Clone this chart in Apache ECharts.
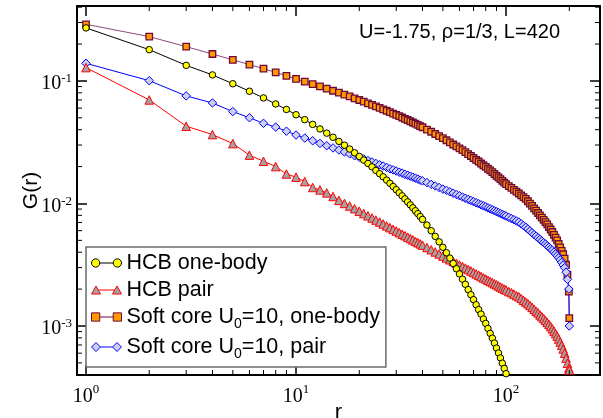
<!DOCTYPE html>
<html><head><meta charset="utf-8">
<script src="https://cdn.jsdelivr.net/npm/echarts@6/dist/echarts.min.js"></script>
<style>html,body{margin:0;padding:0;background:#fff}#c{width:603px;height:418px}</style>
</head><body><div id="c"></div>
<script>
// distances r
const R = [1,2,3,4,5,6,7,8,9,10,11,12,13,14,15,16,17,18,19,20,21,22,23,24,25,26,27,28,29,30,31,32,33,34,35,36,37,38,39,40,
42,44,46,48,50,52,54,56,58,60,62,64,66,68,70,72,74,76,78,80,82,84,86,88,90,92,94,96,98,100,
103,106,109,112,115,118,121,124,127,130,133,136,139,142,145,148,151,154,157,160,163,166,169,172,175,178,181,184,187,190,193,196,199,200];

const hcbOneBody = [0.271,0.180,0.134,0.112,0.0949,0.0824,0.0727,0.0649,0.0585,0.0530,0.0483,0.0442,0.0406,0.0375,0.0347,0.0321,0.0299,0.0278,0.0259,0.0242,
0.0226,0.0212,0.0199,0.0186,0.0175,0.0165,0.0155,0.0146,0.01375,0.01296,0.01223,0.01154,0.0109,0.0103,0.00974,0.00922,0.00872,0.00826,0.00782,0.00741,
0.00666,0.00599,0.00539,0.00486,0.00439,0.00396,0.00358,0.00324,0.00293,0.00266,0.00241,0.00219,0.00198,0.00180,0.00164,0.00149,0.00136,0.00125,0.00114,0.00105,
0.000955,0.00087,0.000795,0.000725,0.00066,0.000602,0.000548,0.000497,0.00045,0.000408];

const hcbPair = [0.1285,0.0700,0.0427,0.0365,0.0308,0.0248,0.0221,0.0200,0.0174,0.0164,0.0151,0.0135,0.0129,0.0122,0.0114,0.0106,0.0100,0.00953,0.00907,0.00865,
0.00827,0.00793,0.00761,0.00732,0.00705,0.0068,0.00656,0.00635,0.00615,0.00596,0.00578,0.00561,0.00546,0.00531,0.00517,0.00504,0.00491,0.00479,0.00468,0.00457,
0.00437,0.00419,0.00402,0.00387,0.00372,0.00359,0.00347,0.00336,0.00325,0.00315,0.00306,0.00297,0.00289,0.00281,0.00273,0.00266,0.0026,0.00253,0.00247,0.00242,
0.00236,0.00231,0.00226,0.00221,0.00217,0.00212,0.00208,0.00204,0.0020,0.00197,
0.00191,0.00187,0.00182,0.00177,0.00173,0.00168,0.00162,0.00157,0.00152,0.00147,0.00142,0.00137,0.00132,0.00128,0.00123,0.00119,0.00115,0.00111,0.00107,0.00103,
0.000989,0.000948,0.000908,0.000867,0.000826,0.000783,0.00074,0.000695,0.000649,0.0006,0.000547,0.000496,0.000452,0.000437];

const softOneBody = [0.290,0.230,0.1905,0.166,0.1486,0.136,0.126,0.1175,0.110,0.1038,0.0987,0.0942,0.0902,0.0866,0.0832,0.0802,0.0773,0.0747,0.0722,0.0699,
0.0678,0.0657,0.0638,0.0620,0.0603,0.0587,0.0571,0.0556,0.0542,0.0529,0.0516,0.0503,0.0491,0.0480,0.0469,0.0458,0.0448,0.0438,0.0428,0.0419,
0.0401,0.0385,0.0369,0.0355,0.0341,0.0328,0.0315,0.0303,0.0292,0.0282,0.0272,0.0262,0.0253,0.0244,0.0235,0.0227,0.0220,0.0212,0.0205,0.0199,
0.0192,0.0186,0.0180,0.0174,0.0168,0.0163,0.0158,0.0153,0.0148,0.01436,
0.01387,0.01338,0.01292,0.01248,0.01206,0.01166,0.01127,0.0109,0.01042,0.00997,0.00954,0.00913,0.00874,0.00836,0.0080,0.00766,0.00734,0.00703,0.00674,0.00642,
0.00613,0.00585,0.00555,0.00526,0.00499,0.00467,0.00438,0.0041,0.00385,0.00355,0.00316,0.00263,0.00191,0.00116];

const softPair = [0.1393,0.1005,0.0755,0.0661,0.0562,0.0501,0.0451,0.0420,0.0389,0.0362,0.0342,0.0325,0.0309,0.0296,0.0284,0.0273,0.0263,0.0254,0.0245,0.0238,
0.0231,0.0224,0.0218,0.0212,0.0207,0.0202,0.0197,0.0192,0.0188,0.0184,0.0180,0.0177,0.0173,0.0170,0.0167,0.0164,0.0161,0.0158,0.0155,0.0153,
0.0148,0.0143,0.0139,0.0135,0.0131,0.0128,0.01245,0.01214,0.01184,0.01156,0.01129,0.01104,0.0108,0.01057,0.01035,0.01014,0.00994,0.00974,0.00956,0.00938,
0.0092,0.00904,0.00888,0.00872,0.00857,0.00843,0.00829,0.00815,0.00802,0.00789,
0.00771,0.00753,0.00736,0.0072,0.00705,0.00682,0.00661,0.00639,0.00619,0.00597,0.00576,0.00557,0.00541,0.00524,0.00509,0.00494,0.00479,0.00466,0.00452,0.00439,
0.00427,0.00415,0.00401,0.00387,0.00374,0.0036,0.00346,0.00331,0.00315,0.00299,0.00275,0.0024,0.0020,0.0010];

const xMinorTicks = [2,3,4,5,6,7,8,9,20,30,40,50,60,70,80,90,200];
const yMinorTicks = [0.0005,0.0006,0.0007,0.0008,0.0009,0.002,0.003,0.004,0.005,0.006,0.007,0.008,0.009,
0.02,0.03,0.04,0.05,0.06,0.07,0.08,0.09,0.2,0.3,0.4];
const seriesNames = ['HCB one-body','HCB pair','Soft core U0=10, one-body','Soft core U0=10, pair'];
const annotation = 'U=-1.75, \u03c1=1/3, L=420';
const xTitle = 'r', yTitle = 'G(r)';

const X_MIN = 0.906, X_MAX = 280, Y_MIN = 3.98e-4, Y_MAX = 0.409;

const pairs = arr => arr.map((v, i) => [R[i], v]);

function powLabel(v) {
  const e = Math.log10(v);
  if (Math.abs(e - Math.round(e)) > 0.01) return '';
  return '{b|10}{s|' + Math.round(e) + '}';
}

const chart = echarts.init(document.getElementById('c'));

const baseAxis = {
  type: 'log', logBase: 10,
  axisLine: {show: true, onZero: false, lineStyle: {color: '#000', width: 2}},
  axisTick: {show: true, inside: true, length: 10, lineStyle: {color: '#000', width: 1.5}},
  splitLine: {show: false},
  minorTick: {show: false}
};

const minorTickSeries = (axis) => ({
  type: 'custom', coordinateSystem: 'cartesian2d', silent: true, clip: false, z: 10,
  data: axis === 'x' ? xMinorTicks.map(v => [v, Y_MIN]) : yMinorTicks.map(v => [X_MIN, v]),
  renderItem: (params, api) => {
    const cs = params.coordSys;
    const p = api.coord([api.value(0), api.value(1)]);
    const st = {stroke: '#000', lineWidth: 1};
    if (axis === 'x') {
      return {type: 'group', children: [
        {type: 'line', shape: {x1: p[0], y1: cs.y + cs.height, x2: p[0], y2: cs.y + cs.height - 5}, style: st},
        {type: 'line', shape: {x1: p[0], y1: cs.y, x2: p[0], y2: cs.y + 5}, style: st}
      ]};
    }
    return {type: 'group', children: [
      {type: 'line', shape: {x1: cs.x, y1: p[1], x2: cs.x + 5, y2: p[1]}, style: st},
      {type: 'line', shape: {x1: cs.x + cs.width, y1: p[1], x2: cs.x + cs.width - 5, y2: p[1]}, style: st}
    ]};
  }
});

const lineSeries = (name, data, symbol, size, fill, border, lineColor, bw) => ({
  name, type: 'line', data: pairs(data), symbol, symbolSize: size,
  showSymbol: true, showAllSymbol: true, clip: true,
  itemStyle: {color: fill, borderColor: border, borderWidth: bw || 1},
  lineStyle: {color: lineColor, width: 1},
  emphasis: {disabled: true}
});

const icons = {
  circle: 'path://M0.5,4.5A4,4,0,1,1,8.5,4.5A4,4,0,1,1,0.5,4.5Z M8.5,4.5L21.5,4.5 M21.5,4.5A4,4,0,1,1,29.5,4.5A4,4,0,1,1,21.5,4.5Z',
  triangle: 'path://M0,8.5L4.5,0.5L9,8.5Z M6.75,4.5L23.25,4.5 M21,8.5L25.5,0.5L30,8.5Z',
  rect: 'path://M0.5,0.5L8.5,0.5L8.5,8.5L0.5,8.5Z M8.5,4.5L21.5,4.5 M21.5,0.5L29.5,0.5L29.5,8.5L21.5,8.5Z',
  diamond: 'path://M0,4.5L4.5,0L9,4.5L4.5,9Z M9,4.5L21,4.5 M21,4.5L25.5,0L30,4.5L25.5,9Z'
};

const option = {
  animation: false,
  backgroundColor: '#fff',
  grid: {left: 77, top: 6, width: 523, height: 369, containLabel: false, outerBoundsMode: 'none'},
  xAxis: [
    Object.assign({}, baseAxis, {
      position: 'bottom', min: X_MIN, max: X_MAX,
      name: xTitle, nameLocation: 'middle', nameGap: 27, nameMoveOverlap: false,
      nameTextStyle: {fontFamily: 'Liberation Sans', fontSize: 22, color: '#000'},
      axisLabel: {show: true, margin: 8, formatter: powLabel, color: '#000',
        rich: {b: {fontFamily: 'Liberation Serif', fontSize: 20, color: '#000'},
               s: {fontFamily: 'Liberation Serif', fontSize: 13, color: '#000', padding: [0, 0, 14, 0]}}}
    }),
    Object.assign({}, baseAxis, {position: 'top', min: X_MIN, max: X_MAX, axisLabel: {show: false}})
  ],
  yAxis: [
    Object.assign({}, baseAxis, {
      position: 'left', min: Y_MIN, max: Y_MAX,
      name: yTitle, nameLocation: 'middle', nameGap: 35, nameRotate: 90, nameMoveOverlap: false,
      nameTextStyle: {fontFamily: 'Liberation Sans', fontSize: 21, color: '#000'},
      axisLabel: {show: true, margin: 5, formatter: powLabel, color: '#000',
        rich: {b: {fontFamily: 'Liberation Serif', fontSize: 20, color: '#000', padding: [6, 0, 0, 0]},
               s: {fontFamily: 'Liberation Serif', fontSize: 13, color: '#000', padding: [0, 0, 4, 0]}}}
    }),
    Object.assign({}, baseAxis, {position: 'right', min: Y_MIN, max: Y_MAX, axisLabel: {show: false}})
  ],
  legend: {
    show: true, orient: 'vertical', left: 86, top: 247,
    padding: [5, 6, 6, 5], itemGap: 5, itemWidth: 30, itemHeight: 9,
    backgroundColor: '#fff', borderColor: '#6a6a6a', borderWidth: 1.5, borderRadius: 0,
    selectedMode: false,
    data: [
      {name: seriesNames[0], icon: icons.circle, itemStyle: {color: '#ffff00', borderColor: '#000', borderWidth: 1}},
      {name: seriesNames[1], icon: icons.triangle, itemStyle: {color: '#a3a3a3', borderColor: '#ff0000', borderWidth: 1}},
      {name: seriesNames[2], icon: icons.rect, itemStyle: {color: '#ff9a00', borderColor: '#6e0838', borderWidth: 1}},
      {name: seriesNames[3], icon: icons.diamond, itemStyle: {color: '#ccd0ea', borderColor: '#0000ff', borderWidth: 1}}
    ],
    formatter: n => {
      const i = n.indexOf('U0');
      if (i < 0) return '{t|' + n + '}';
      return '{t|' + n.slice(0, i + 1) + '}{s|0}{t|' + n.slice(i + 2) + '}';
    },
    textStyle: {fontFamily: 'Liberation Sans', fontSize: 21.5, color: '#000',
      rich: {t: {fontFamily: 'Liberation Sans', fontSize: 21.5, color: '#000'},
             s: {fontFamily: 'Liberation Sans', fontSize: 14, color: '#000', padding: [14, 0, 0, 0]}}}
  },
  graphic: [{
    type: 'text', x: 560, y: 32, z: 100,
    style: {text: annotation, fontFamily: 'Liberation Sans', fontSize: 20, fill: '#000', align: 'right', verticalAlign: 'middle'}
  }],
  series: [
    lineSeries(seriesNames[2], softOneBody, 'rect', 6.5, '#ff9a00', '#6e0838', '#8c4a7a', 1.3),
    lineSeries(seriesNames[3], softPair, 'diamond', 8.5, '#ccd0ea', '#0000ff', '#0000ff', 1),
    lineSeries(seriesNames[1], hcbPair, 'triangle', 8.5, '#a3a3a3', '#ff0000', '#ff0000', 1),
    lineSeries(seriesNames[0], hcbOneBody, 'circle', 6.5, '#ffff00', '#000', '#000', 1),
    minorTickSeries('x'),
    minorTickSeries('y')
  ]
};
chart.setOption(option);
</script>
</body></html>
